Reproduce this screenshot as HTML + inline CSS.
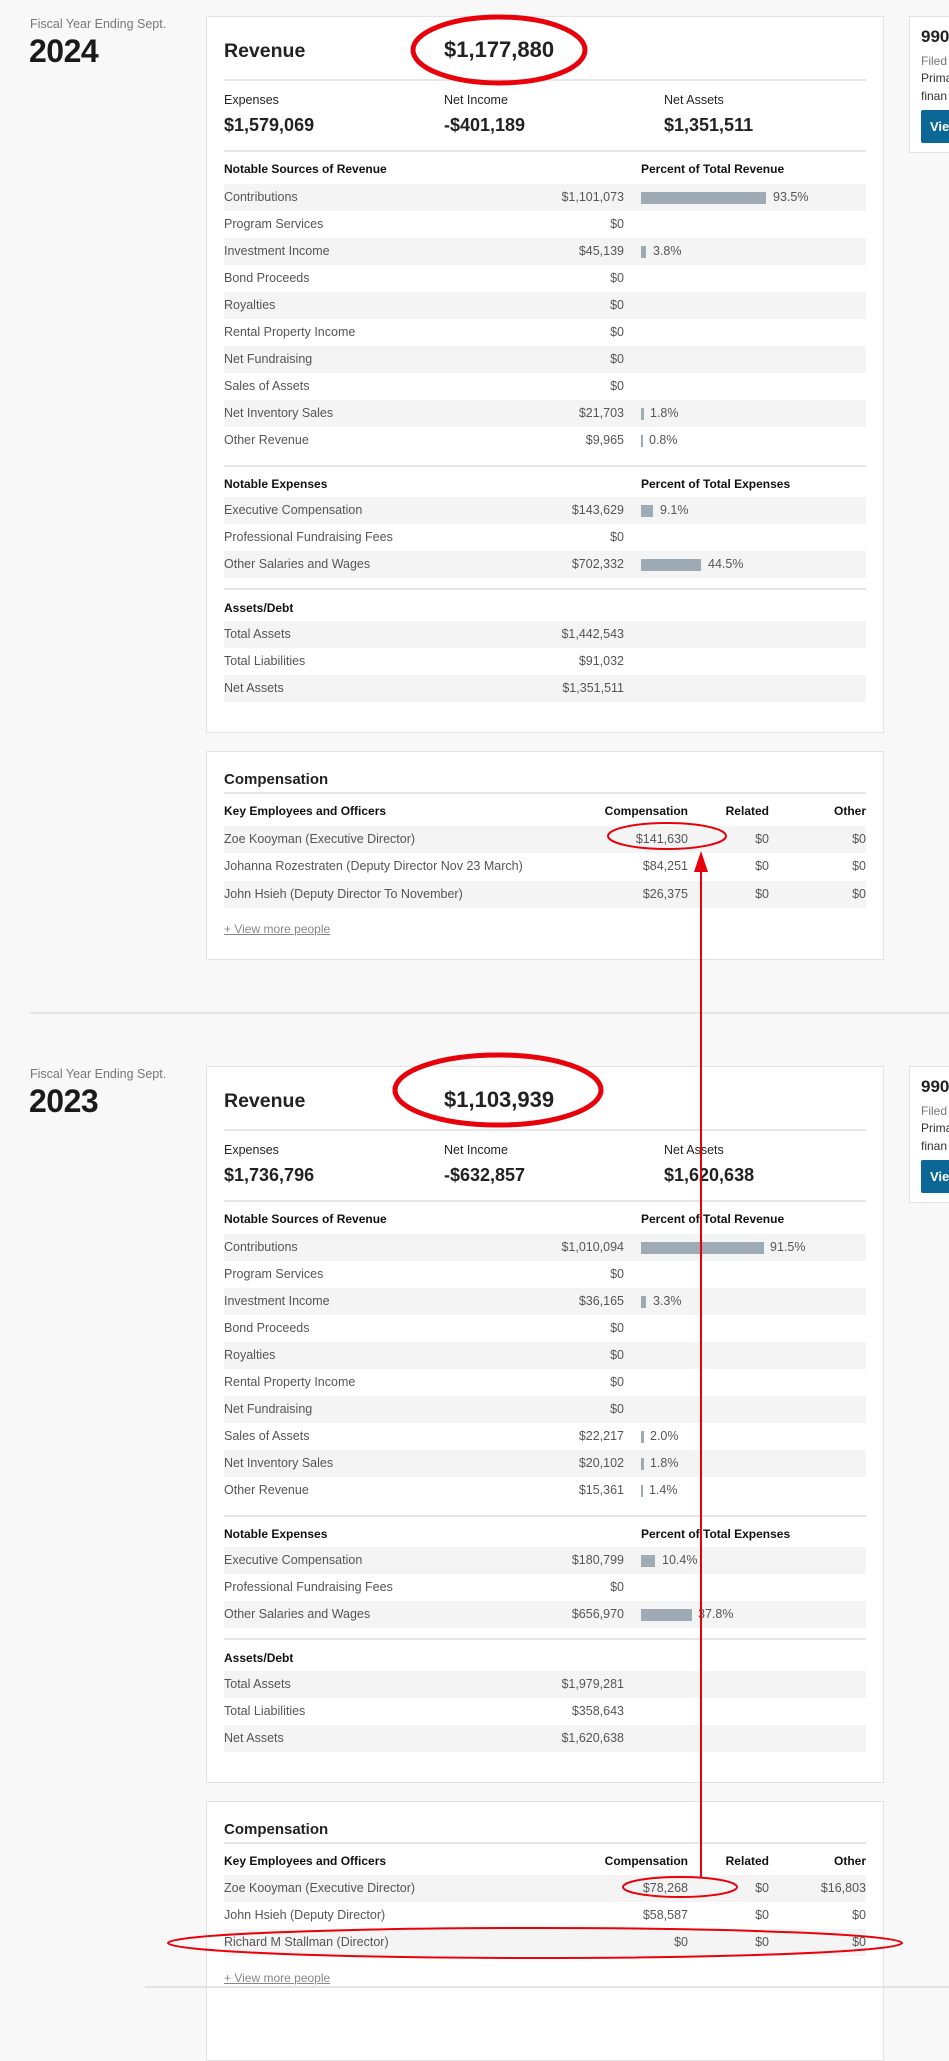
<!DOCTYPE html>
<html><head><meta charset="utf-8">
<style>
*{margin:0;padding:0;box-sizing:border-box}
body{width:949px;height:1992px;background:#f7f8f7;font-family:"Liberation Sans",sans-serif;position:relative;overflow:hidden;color:#222}
.sec{position:absolute;left:0;width:949px;height:1000px}
.a{position:absolute;white-space:nowrap}
.card{position:absolute;background:#fff;border:1px solid #e2e3e2}
.fy{left:30px;top:17px;font-size:12.5px;color:#777}
.yr{left:29px;top:33px;font-size:32px;font-weight:bold;color:#1a1a1a;letter-spacing:-0.5px}
.rev{left:224px;top:40px;font-size:19.5px;font-weight:bold}
.revv{left:444px;top:37px;font-size:22px;font-weight:bold}
.hl{position:absolute;left:224px;width:642px;height:2px;background:#e6e6e6}
.lab{font-size:12.5px;color:#222}
.big{font-size:18px;font-weight:bold}
.h{font-size:12px;font-weight:bold;color:#111}
.row{position:absolute;left:224px;width:642px;height:27px;font-size:12.5px;color:#555;line-height:27px}
.row.s{background:#f4f4f4}
.row .l{position:absolute;left:0}
.row .v{position:absolute;right:242px}
.row .b{position:absolute;left:417px;top:8px;height:12px;background:#9fabb4}
.row .p{position:absolute}
.row .c1{position:absolute;right:178px}
.row .c2{position:absolute;right:97px}
.row .c3{position:absolute;right:0}
.more{left:224px;font-size:12px;color:#888;text-decoration:underline}
.side{left:909px;top:16px;width:60px;height:137px}
</style></head><body>

<!-- ===== 2024 ===== -->
<div class="sec" style="top:0">
<div class="a fy">Fiscal Year Ending Sept.</div>
<div class="a yr">2024</div>
<div class="card" style="left:206px;top:16px;width:678px;height:717px"></div>
<div class="a rev">Revenue</div>
<div class="a revv">$1,177,880</div>
<div class="hl" style="top:79px"></div>
<div class="a lab" style="left:224px;top:93px">Expenses</div>
<div class="a lab" style="left:444px;top:93px">Net Income</div>
<div class="a lab" style="left:664px;top:93px">Net Assets</div>
<div class="a big" style="left:224px;top:115px">$1,579,069</div>
<div class="a big" style="left:444px;top:115px">-$401,189</div>
<div class="a big" style="left:664px;top:115px">$1,351,511</div>
<div class="hl" style="top:150px"></div>
<div class="a h" style="left:224px;top:162px">Notable Sources of Revenue</div>
<div class="a h" style="left:641px;top:162px">Percent of Total Revenue</div>
<div class="row s" style="top:184px"><span class="l">Contributions</span><span class="v">$1,101,073</span><span class="b" style="width:125px"></span><span class="p" style="left:549px">93.5%</span></div>
<div class="row" style="top:211px"><span class="l">Program Services</span><span class="v">$0</span></div>
<div class="row s" style="top:238px"><span class="l">Investment Income</span><span class="v">$45,139</span><span class="b" style="width:5px"></span><span class="p" style="left:429px">3.8%</span></div>
<div class="row" style="top:265px"><span class="l">Bond Proceeds</span><span class="v">$0</span></div>
<div class="row s" style="top:292px"><span class="l">Royalties</span><span class="v">$0</span></div>
<div class="row" style="top:319px"><span class="l">Rental Property Income</span><span class="v">$0</span></div>
<div class="row s" style="top:346px"><span class="l">Net Fundraising</span><span class="v">$0</span></div>
<div class="row" style="top:373px"><span class="l">Sales of Assets</span><span class="v">$0</span></div>
<div class="row s" style="top:400px"><span class="l">Net Inventory Sales</span><span class="v">$21,703</span><span class="b" style="width:3px"></span><span class="p" style="left:426px">1.8%</span></div>
<div class="row" style="top:427px"><span class="l">Other Revenue</span><span class="v">$9,965</span><span class="b" style="width:1.5px"></span><span class="p" style="left:425px">0.8%</span></div>
<div class="hl" style="top:465px"></div>
<div class="a h" style="left:224px;top:477px">Notable Expenses</div>
<div class="a h" style="left:641px;top:477px">Percent of Total Expenses</div>
<div class="row s" style="top:497px"><span class="l">Executive Compensation</span><span class="v">$143,629</span><span class="b" style="width:12px"></span><span class="p" style="left:436px">9.1%</span></div>
<div class="row" style="top:524px"><span class="l">Professional Fundraising Fees</span><span class="v">$0</span></div>
<div class="row s" style="top:551px"><span class="l">Other Salaries and Wages</span><span class="v">$702,332</span><span class="b" style="width:60px"></span><span class="p" style="left:484px">44.5%</span></div>
<div class="hl" style="top:588px"></div>
<div class="a h" style="left:224px;top:601px">Assets/Debt</div>
<div class="row s" style="top:621px"><span class="l">Total Assets</span><span class="v">$1,442,543</span></div>
<div class="row" style="top:648px"><span class="l">Total Liabilities</span><span class="v">$91,032</span></div>
<div class="row s" style="top:675px"><span class="l">Net Assets</span><span class="v">$1,351,511</span></div>

<div class="card" style="left:206px;top:751px;width:678px;height:209px"></div>
<div class="a" style="left:224px;top:771px;font-size:15px;font-weight:bold">Compensation</div>
<div class="hl" style="top:792px"></div>
<div class="a h" style="left:224px;top:804px">Key Employees and Officers</div>
<div class="a h" style="right:261px;top:804px">Compensation</div>
<div class="a h" style="right:180px;top:804px">Related</div>
<div class="a h" style="right:83px;top:804px">Other</div>
<div class="row s" style="top:826px"><span class="l">Zoe Kooyman (Executive Director)</span><span class="c1">$141,630</span><span class="c2">$0</span><span class="c3">$0</span></div>
<div class="row" style="top:853px"><span class="l">Johanna Rozestraten (Deputy Director Nov 23 March)</span><span class="c1">$84,251</span><span class="c2">$0</span><span class="c3">$0</span></div>
<div class="row s" style="top:881px"><span class="l">John Hsieh (Deputy Director To November)</span><span class="c1">$26,375</span><span class="c2">$0</span><span class="c3">$0</span></div>
<div class="a more" style="top:922px">+ View more people</div>

<div class="card side"></div>
<div class="a" style="left:921px;top:27px;font-size:17px;font-weight:bold">990</div>
<div class="a" style="left:921px;top:54px;font-size:12px;color:#777">Filed</div>
<div class="a" style="left:921px;top:71px;font-size:12px;color:#333">Prima</div>
<div class="a" style="left:921px;top:89px;font-size:12px;color:#333">finan</div>
<div class="a" style="left:921px;top:110px;width:40px;height:33px;background:#0b6796;border-radius:2px;color:#fff;font-weight:bold;font-size:13px;line-height:33px;padding-left:9px">View</div>
</div>

<div class="a" style="left:30px;top:1012px;width:919px;height:2px;background:#e3e4e3"></div>

<!-- ===== 2023 ===== -->
<div class="sec" style="top:1050px">
<div class="a fy">Fiscal Year Ending Sept.</div>
<div class="a yr">2023</div>
<div class="card" style="left:206px;top:16px;width:678px;height:717px"></div>
<div class="a rev">Revenue</div>
<div class="a revv">$1,103,939</div>
<div class="hl" style="top:79px"></div>
<div class="a lab" style="left:224px;top:93px">Expenses</div>
<div class="a lab" style="left:444px;top:93px">Net Income</div>
<div class="a lab" style="left:664px;top:93px">Net Assets</div>
<div class="a big" style="left:224px;top:115px">$1,736,796</div>
<div class="a big" style="left:444px;top:115px">-$632,857</div>
<div class="a big" style="left:664px;top:115px">$1,620,638</div>
<div class="hl" style="top:150px"></div>
<div class="a h" style="left:224px;top:162px">Notable Sources of Revenue</div>
<div class="a h" style="left:641px;top:162px">Percent of Total Revenue</div>
<div class="row s" style="top:184px"><span class="l">Contributions</span><span class="v">$1,010,094</span><span class="b" style="width:123px"></span><span class="p" style="left:546px">91.5%</span></div>
<div class="row" style="top:211px"><span class="l">Program Services</span><span class="v">$0</span></div>
<div class="row s" style="top:238px"><span class="l">Investment Income</span><span class="v">$36,165</span><span class="b" style="width:5px"></span><span class="p" style="left:429px">3.3%</span></div>
<div class="row" style="top:265px"><span class="l">Bond Proceeds</span><span class="v">$0</span></div>
<div class="row s" style="top:292px"><span class="l">Royalties</span><span class="v">$0</span></div>
<div class="row" style="top:319px"><span class="l">Rental Property Income</span><span class="v">$0</span></div>
<div class="row s" style="top:346px"><span class="l">Net Fundraising</span><span class="v">$0</span></div>
<div class="row" style="top:373px"><span class="l">Sales of Assets</span><span class="v">$22,217</span><span class="b" style="width:3px"></span><span class="p" style="left:426px">2.0%</span></div>
<div class="row s" style="top:400px"><span class="l">Net Inventory Sales</span><span class="v">$20,102</span><span class="b" style="width:3px"></span><span class="p" style="left:426px">1.8%</span></div>
<div class="row" style="top:427px"><span class="l">Other Revenue</span><span class="v">$15,361</span><span class="b" style="width:2px"></span><span class="p" style="left:425px">1.4%</span></div>
<div class="hl" style="top:465px"></div>
<div class="a h" style="left:224px;top:477px">Notable Expenses</div>
<div class="a h" style="left:641px;top:477px">Percent of Total Expenses</div>
<div class="row s" style="top:497px"><span class="l">Executive Compensation</span><span class="v">$180,799</span><span class="b" style="width:14px"></span><span class="p" style="left:438px">10.4%</span></div>
<div class="row" style="top:524px"><span class="l">Professional Fundraising Fees</span><span class="v">$0</span></div>
<div class="row s" style="top:551px"><span class="l">Other Salaries and Wages</span><span class="v">$656,970</span><span class="b" style="width:51px"></span><span class="p" style="left:474px">37.8%</span></div>
<div class="hl" style="top:588px"></div>
<div class="a h" style="left:224px;top:601px">Assets/Debt</div>
<div class="row s" style="top:621px"><span class="l">Total Assets</span><span class="v">$1,979,281</span></div>
<div class="row" style="top:648px"><span class="l">Total Liabilities</span><span class="v">$358,643</span></div>
<div class="row s" style="top:675px"><span class="l">Net Assets</span><span class="v">$1,620,638</span></div>

<div class="card" style="left:206px;top:751px;width:678px;height:260px"></div>
<div class="a" style="left:224px;top:771px;font-size:15px;font-weight:bold">Compensation</div>
<div class="hl" style="top:792px"></div>
<div class="a h" style="left:224px;top:804px">Key Employees and Officers</div>
<div class="a h" style="right:261px;top:804px">Compensation</div>
<div class="a h" style="right:180px;top:804px">Related</div>
<div class="a h" style="right:83px;top:804px">Other</div>
<div class="row s" style="top:825px"><span class="l">Zoe Kooyman (Executive Director)</span><span class="c1">$78,268</span><span class="c2">$0</span><span class="c3">$16,803</span></div>
<div class="row" style="top:852px"><span class="l">John Hsieh (Deputy Director)</span><span class="c1">$58,587</span><span class="c2">$0</span><span class="c3">$0</span></div>
<div class="row s" style="top:879px"><span class="l">Richard M Stallman (Director)</span><span class="c1">$0</span><span class="c2">$0</span><span class="c3">$0</span></div>
<div class="a more" style="top:921px">+ View more people</div>

<div class="card side"></div>
<div class="a" style="left:921px;top:27px;font-size:17px;font-weight:bold">990</div>
<div class="a" style="left:921px;top:54px;font-size:12px;color:#777">Filed</div>
<div class="a" style="left:921px;top:71px;font-size:12px;color:#333">Prima</div>
<div class="a" style="left:921px;top:89px;font-size:12px;color:#333">finan</div>
<div class="a" style="left:921px;top:110px;width:40px;height:33px;background:#0b6796;border-radius:2px;color:#fff;font-weight:bold;font-size:13px;line-height:33px;padding-left:9px">View</div>
</div>

<div class="a" style="left:145px;top:1986px;width:804px;height:2px;background:#e3e3e3"></div>

<!-- annotations -->
<svg class="a" style="left:0;top:0" width="949" height="1992" viewBox="0 0 949 1992">
<g fill="none" stroke="#e8000a">
<ellipse cx="499" cy="50" rx="86" ry="33" stroke-width="5"/>
<ellipse cx="498" cy="1090" rx="103" ry="35" stroke-width="5"/>
<ellipse cx="667" cy="836" rx="59" ry="13" stroke-width="2"/>
<ellipse cx="680" cy="1887" rx="57" ry="10" stroke-width="2"/>
<ellipse cx="535" cy="1943" rx="367" ry="15" stroke-width="2"/>
<line x1="701" y1="1877" x2="701" y2="866" stroke-width="2"/>
</g>
<polygon points="701,851 694,872 708,872" fill="#e8000a"/>
</svg>
</body></html>
